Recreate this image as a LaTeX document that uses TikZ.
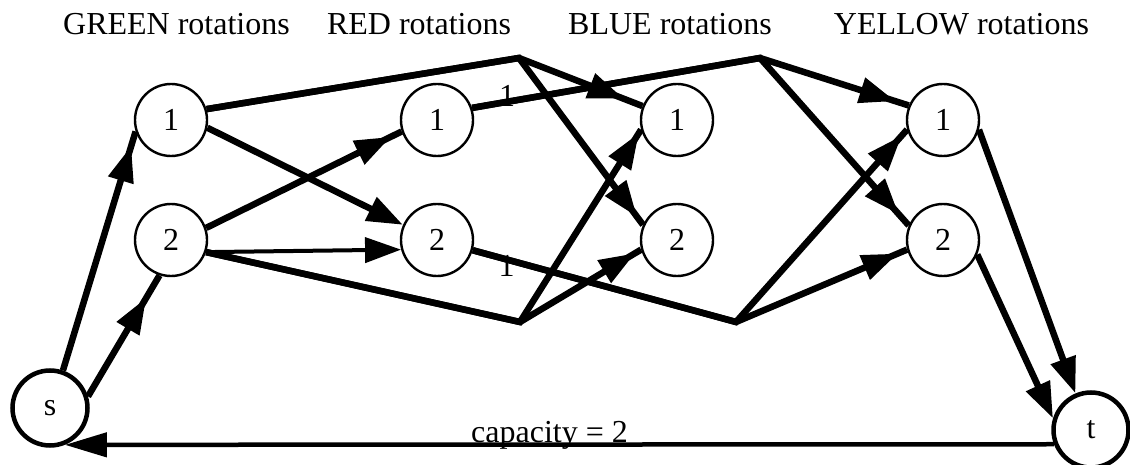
\documentclass[tikz,border=0pt]{standalone}
\usepackage{fontspec}
\setmainfont{Liberation Serif}
\usetikzlibrary{arrows.meta,decorations.markings}
\begin{document}
\begin{tikzpicture}[x=1pt,y=-1pt,
  vtx/.style={circle,draw,line width=2.4pt,minimum size=72pt,inner sep=0pt,fill=white,font=\fontsize{32}{36}\selectfont},
  sttbox/.style={vtx,line width=4.5pt,minimum size=75pt},
  ttl/.style={font=\fontsize{32}{36}\selectfont,anchor=base,inner sep=0pt},
  lnk/.style={line width=6.5pt},
  endarr/.style={-{Triangle[length=36pt,width=25pt]}},
  midarr/.style={postaction={decorate},decoration={markings,mark=at position -#1 with {\arrow{Triangle[length=36pt,width=25pt]}}}},
  elab/.style={font=\fontsize{32}{36}\selectfont,inner sep=0pt},
]
\useasboundingbox (0,0) rectangle (1130,465);

% titles
\node[ttl] (tg) at (176.5,35) {GREEN rotations};
\node[ttl] (tr) at (419,35) {RED rotations};
\node[ttl] (tb) at (670,35) {BLUE rotations};
\node[ttl] (ty) at (961.5,35) {YELLOW rotations};

% vertices
\node[vtx] (G1) at (171,120) {1};
\node[vtx] (G2) at (171,240) {2};
\node[vtx] (R1) at (437,120) {1};
\node[vtx] (R2) at (437,240) {2};
\node[vtx] (B1) at (677,120) {1};
\node[vtx] (B2) at (677,240) {2};
\node[vtx] (Y1) at (943,120) {1};
\node[vtx] (Y2) at (943,240) {2};
\node[sttbox] (s) at (50,408) {s};
\node[sttbox] (t) at (1091,430) {t};

% bend points
\coordinate (A1) at (519,58);
\coordinate (A2) at (760,58);
\coordinate (C1) at (520,322);
\coordinate (C2) at (736,322);

% edges
\draw[lnk,midarr=15pt] (s.71) -- (G1.198);
\draw[lnk,midarr=26pt] (s.17) -- (G2.252);

\draw[lnk,midarr=12pt] (G2.19) -- (R1.198);
\draw[lnk,endarr] (G1.-12) -- (R2.156);
\draw[line width=4pt,endarr] (G2.-19) -- (R2.195);

\draw[lnk,midarr=20pt] (G1.17) -- (A1) -- (B1.158);
\draw[lnk,midarr=10pt] (G1.17) -- (A1) -- (B2.156);
\draw[lnk,midarr=4pt] (G2.-19) -- (C1) -- (B1.195);
\draw[lnk,midarr=7pt] (G2.-19) -- (C1) -- (B2.195);

\draw[lnk,midarr=14pt] (R1.19) -- node[elab,pos=0.121,yshift=6pt] (l1) {1} (A2) -- (Y1.157);
\draw[lnk,midarr=15pt] (R1.19) -- (A2) -- (Y2.157);
\draw[lnk,midarr=8pt] (R2.-16) -- node[elab,pos=0.129,yshift=-6pt] (l2) {1} (C2) -- (Y1.195);
\draw[lnk,midarr=10pt] (R2.-16) -- (C2) -- (Y2.195);

\draw[lnk,endarr] (Y1.-15) -- (t.113);
\draw[lnk,endarr] (Y2.-23) -- (t.163);

\draw[line width=4.5pt,-{Triangle[length=42pt,width=24pt]}] (t.201) -- (s.-68);
\node[ttl] (cap) at (549.5,442) {capacity = 2};
\end{tikzpicture}
\end{document}
